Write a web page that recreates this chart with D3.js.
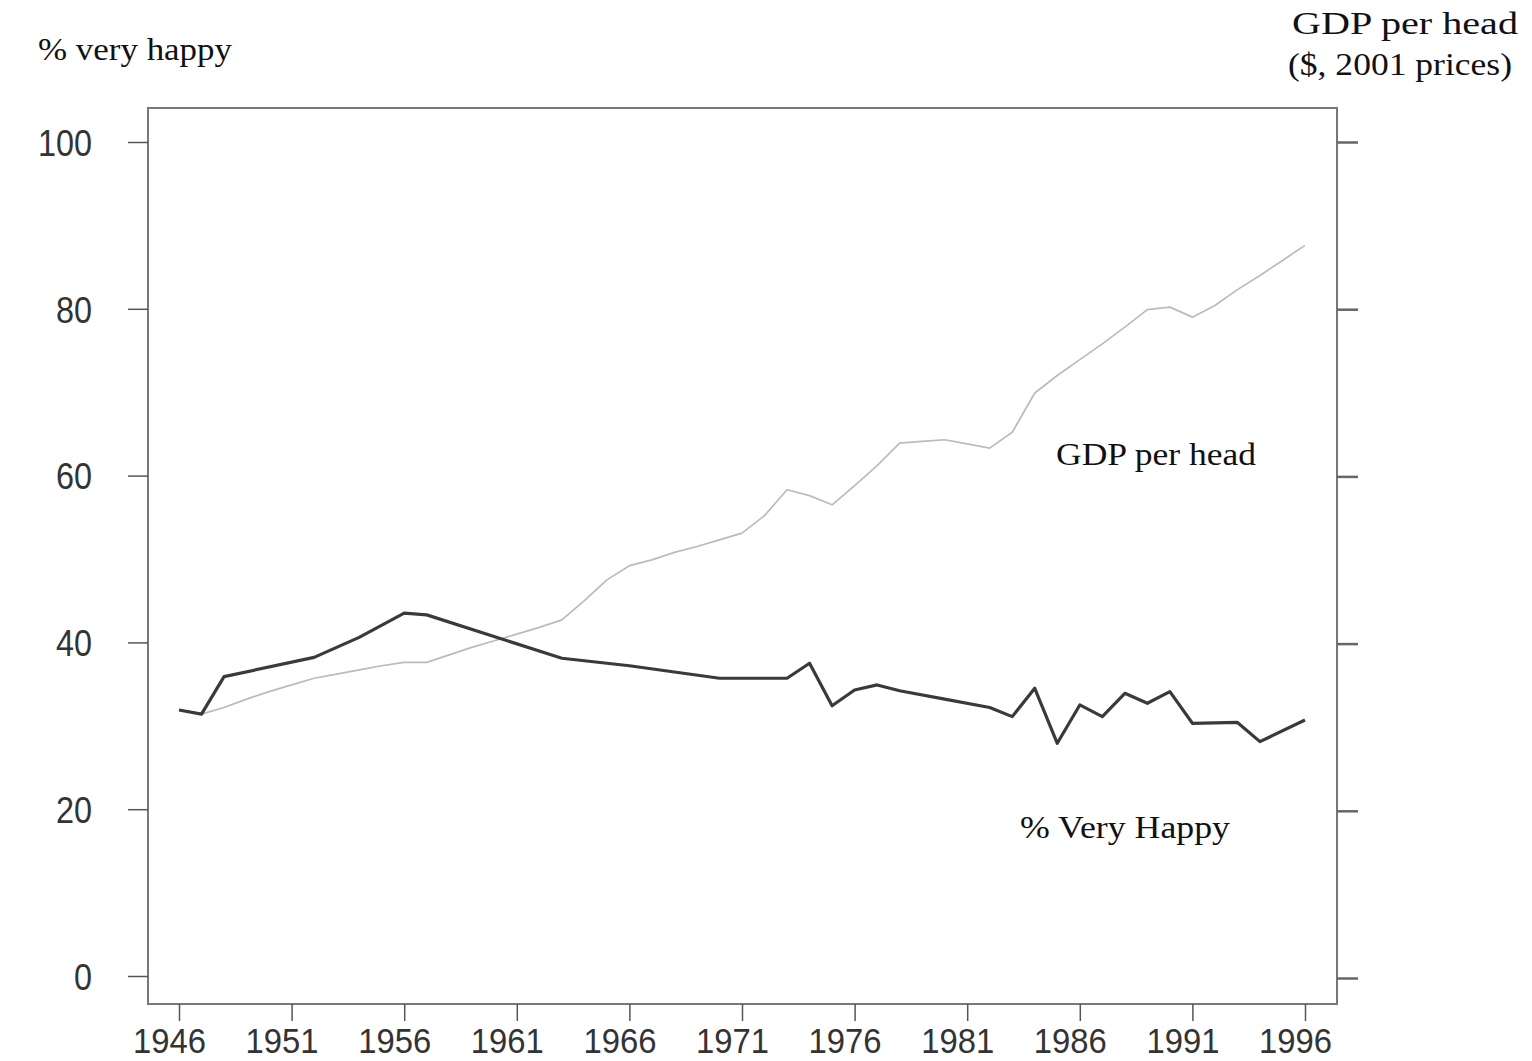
<!DOCTYPE html>
<html>
<head>
<meta charset="utf-8">
<script src="https://cdn.jsdelivr.net/npm/d3@7"></script>
<style>
  body { margin: 0; background: #fff; }
  svg { display: block; }
</style>
</head>
<body>
<script>
// Data (GDP is drawn on the left-axis scale, right axis carries no labels).
var happyYears = [1946,1947,1948,1952,1954,1956,1957,1963,1966,1970,1973,1974,1975,1976,1977,1978,1980,1982,1983,1984,1985,1986,1987,1988,1989,1990,1991,1993,1994,1996];
var happyValues = [31.9,31.4,35.9,38.2,40.6,43.5,43.3,38.1,37.2,35.7,35.7,37.5,32.4,34.3,34.9,34.2,33.2,32.2,31.1,34.5,27.9,32.5,31.1,33.9,32.7,34.1,30.3,30.4,28.1,30.7];

var gdpYears = d3.range(1947, 1997);
var gdpValues = [31.4,32.2,33.2,34.1,34.9,35.7,36.2,36.7,37.2,37.6,37.6,38.5,39.4,40.2,41.0,41.8,42.7,45.0,47.5,49.2,49.9,50.8,51.5,52.3,53.1,55.2,58.3,57.6,56.5,58.8,61.2,63.9,64.1,64.3,63.8,63.3,65.2,69.9,72.0,73.9,75.8,77.8,79.9,80.2,79.0,80.4,82.3,84.0,85.8,87.6];

var xTicks = [1946,1951,1956,1961,1966,1971,1976,1981,1986,1991,1996];
var yTicks = [0,20,40,60,80,100];

var svg = d3.select("body")
  .append("svg")
  .attr("width", 1532)
  .attr("height", 1061);

var x = d3.scaleLinear().domain([1946, 1996]).range([179, 1305]);
var y = d3.scaleLinear().domain([0, 100]).range([976, 142]);
var yRight = d3.scaleLinear().domain([0, 100]).range([978, 142]);

// Frame
svg.append("rect")
  .attr("x", 148).attr("y", 108)
  .attr("width", 1189).attr("height", 896)
  .attr("fill", "none")
  .attr("stroke", "#777")
  .attr("stroke-width", 2);

// Left axis
var yAxis = svg.append("g")
  .attr("transform", "translate(148,0)")
  .call(d3.axisLeft(y).tickValues(yTicks).tickSize(20).tickPadding(0).tickFormat(d3.format("d")));
yAxis.select(".domain").remove();
yAxis.selectAll("line").attr("stroke", "#555").attr("stroke-width", 1.5);
yAxis.selectAll("text")
  .attr("x", -56)
  .attr("dy", "0.36em")
  .attr("font-family", "Liberation Sans, Arial, sans-serif")
  .attr("font-size", 37)
  .attr("fill", "#333")
  .attr("textLength", function(d){ return String(d).length * 18; })
  .attr("lengthAdjust", "spacingAndGlyphs");

// Right axis (ticks only)
var yAxisR = svg.append("g")
  .attr("transform", "translate(1337,0)")
  .call(d3.axisRight(yRight).tickValues(yTicks).tickSize(21).tickFormat(""));
yAxisR.select(".domain").remove();
yAxisR.selectAll("line").attr("stroke", "#666").attr("stroke-width", 2.5);

// Bottom axis
var xAxis = svg.append("g")
  .attr("transform", "translate(0,1004)")
  .call(d3.axisBottom(x).tickValues(xTicks).tickSize(17).tickPadding(0).tickFormat(d3.format("d")));
xAxis.select(".domain").remove();
xAxis.selectAll("line").attr("stroke", "#555").attr("stroke-width", 1.5);
xAxis.selectAll("text")
  .attr("x", -10)
  .attr("y", 49)
  .attr("dy", 0)
  .attr("font-family", "Liberation Sans, Arial, sans-serif")
  .attr("font-size", 35)
  .attr("fill", "#333")
  .attr("textLength", 73)
  .attr("lengthAdjust", "spacingAndGlyphs");

var line = d3.line()
  .x(function(d){ return x(d[0]); })
  .y(function(d){ return y(d[1]); });

// GDP per head, thin light grey
svg.append("path")
  .datum(d3.zip(gdpYears, gdpValues))
  .attr("d", line)
  .attr("fill", "none")
  .attr("stroke", "#bbb")
  .attr("stroke-width", 1.7)
  .attr("stroke-linejoin", "round");

// % very happy, dark
svg.append("path")
  .datum(d3.zip(happyYears, happyValues))
  .attr("d", line)
  .attr("fill", "none")
  .attr("stroke", "#3a3a3a")
  .attr("stroke-width", 3.2)
  .attr("stroke-linejoin", "round");

// Texts
var serif = "Liberation Serif, Times New Roman, serif";
function label(txt, tx, ty, size, len) {
  svg.append("text")
    .attr("x", tx).attr("y", ty)
    .attr("font-family", serif)
    .attr("font-size", size)
    .attr("fill", "#111")
    .attr("textLength", len)
    .attr("lengthAdjust", "spacingAndGlyphs")
    .text(txt);
}
label("% very happy", 38, 60, 32, 194);
label("GDP per head", 1292, 34, 32, 226);
label("($, 2001 prices)", 1288, 75, 32, 224);
label("GDP per head", 1056, 465, 32, 200);
label("% Very Happy", 1020, 838, 32, 210);
</script>
</body>
</html>
